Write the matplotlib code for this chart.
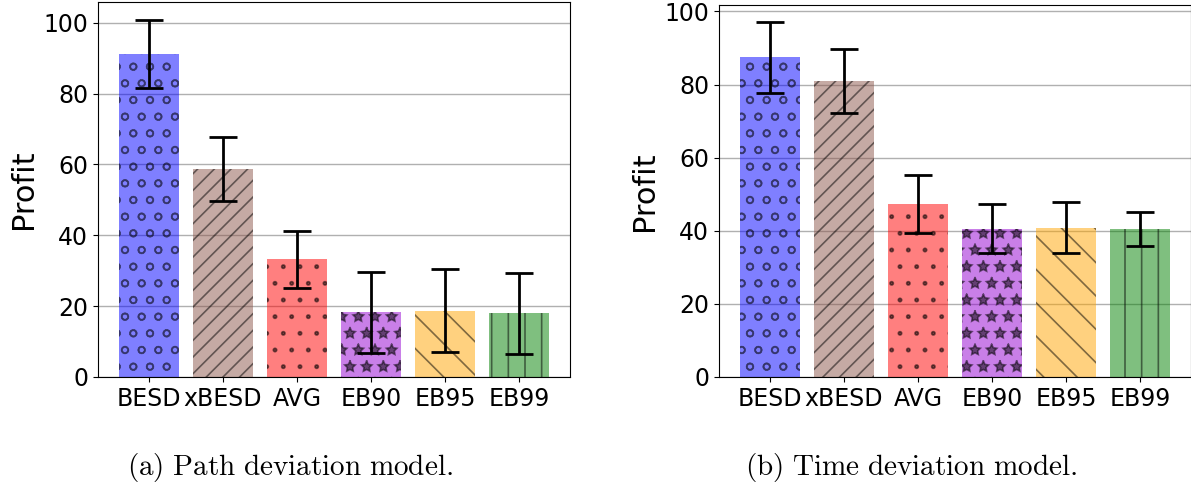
import matplotlib
matplotlib.use('Agg')
import matplotlib.pyplot as plt
from matplotlib.colors import to_rgba
import numpy as np

# Metodos comparados
metodos = ['BESD', 'xBESD', 'AVG', 'EB90', 'EB95', 'EB99']

# (a) Modelo de desviacion de ruta
profit_ruta = [91.2, 58.6, 33.2, 18.3, 18.7, 18.0]
error_ruta = [9.6, 9.0, 8.1, 11.4, 11.7, 11.4]

# (b) Modelo de desviacion de tiempo
profit_tiempo = [87.4, 81.0, 47.4, 40.5, 40.8, 40.5]
error_tiempo = [9.6, 8.8, 7.9, 6.7, 7.0, 4.7]

colores = ['blue', '#8c564b', 'red', 'darkviolet', 'orange', 'green']
tramas = ['o', '//', '.', '*', '\\', '|']

# Trama semitransparente, igual que el relleno
plt.rcParams['hatch.color'] = (0, 0, 0, 0.5)
plt.rcParams['hatch.linewidth'] = 1.2
plt.rcParams['mathtext.fontset'] = 'cm'

fig = plt.figure(figsize=(11.91, 4.88), dpi=100)
ax1 = fig.add_axes([0.0823, 0.2275, 0.3963, 0.7684])
ax2 = fig.add_axes([0.6037, 0.2275, 0.3963, 0.763])


def dibujar(ax, valores, errores):
    x = np.arange(len(metodos))
    relleno = [to_rgba(c, 0.5) for c in colores]
    barras = ax.bar(x, valores, width=0.8, color=relleno,
                    linewidth=0, zorder=2)
    for b, h in zip(barras, tramas):
        b.set_hatch(h)
    ax.errorbar(x, valores, yerr=errores, fmt='none', ecolor='black',
                elinewidth=2, capsize=10, capthick=2, zorder=3)
    ax.set_xticks(x)
    ax.set_xticklabels(metodos, fontsize=17)
    ax.set_yticks([0, 20, 40, 60, 80, 100])
    ax.tick_params(axis='y', labelsize=17)
    ax.set_ylabel('Profit', fontsize=22)
    ax.yaxis.grid(True, color='#b0b0b0', linewidth=1)
    ax.set_axisbelow(True)


dibujar(ax1, profit_ruta, error_ruta)
dibujar(ax2, profit_tiempo, error_tiempo)

# Subtitulos en estilo LaTeX
fig.text(0.2435, 0.043, r'$\mathrm{(a)\ Path\ deviation\ model.}$',
         ha='center', va='center', fontsize=21)
fig.text(0.765, 0.043, r'$\mathrm{(b)\ Time\ deviation\ model.}$',
         ha='center', va='center', fontsize=21)

plt.savefig('out.png', dpi=100)
plt.close()
